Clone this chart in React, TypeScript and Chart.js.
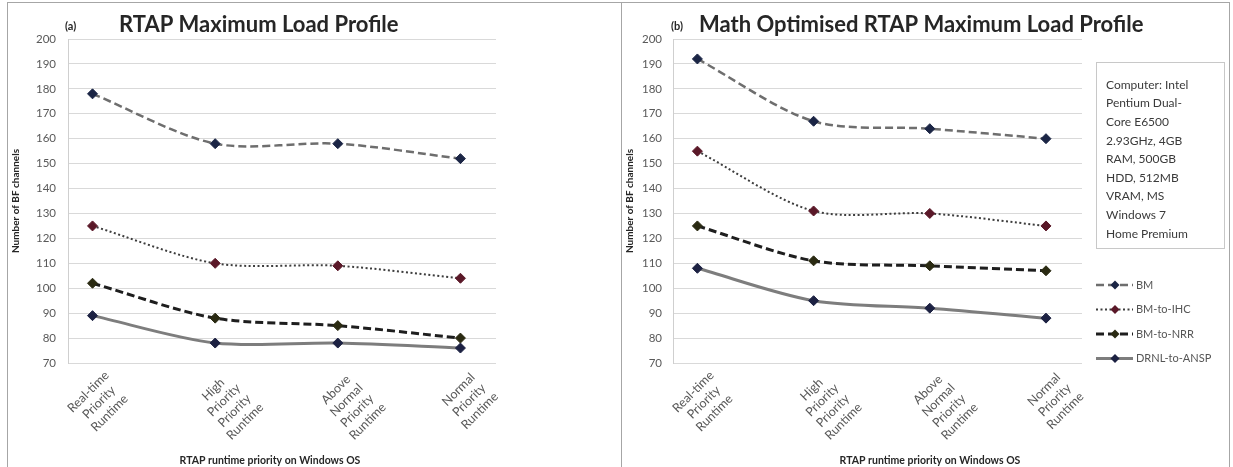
import React, { useEffect, useRef } from "react";
import { Chart, registerables } from "chart.js";

Chart.register(...registerables);

// ---- data ----
const categories: string[][] = [
  ["Real-time", "Priority", "Runtime"],
  ["High", "Priority", "Priority", "Runtime"],
  ["Above", "Normal", "Priority", "Runtime"],
  ["Normal", "Priority", "Runtime"],
];
const seriesNames = ["BM", "BM-to-IHC", "BM-to-NRR", "DRNL-to-ANSP"];

const bmA = [178, 158, 158, 152];
const ihcA = [125, 110, 109, 104];
const nrrA = [102, 88, 85, 80];
const drnlA = [89, 78, 78, 76];

const bmB = [192, 167, 164, 160];
const ihcB = [155, 131, 130, 125];
const nrrB = [125, 111, 109, 107];
const drnlB = [108, 95, 92, 88];

const yTicksMin = 70;
const yTicksMax = 200;
const yStep = 10;

const titleA = "RTAP Maximum Load Profile";
const titleB = "Math Optimised RTAP Maximum Load Profile";
const yTitle = "Number of BF channels";
const xTitle = "RTAP runtime priority on Windows OS";
const infoLines = [
  "Computer: Intel",
  "Pentium Dual-",
  "Core E6500",
  "2.93GHz, 4GB",
  "RAM, 500GB",
  "HDD, 512MB",
  "VRAM, MS",
  "Windows 7",
  "Home Premium",
];

// ---- styles ----
const FONT = "Lato, 'Open Sans', sans-serif";
const styles = [
  { line: "#6e6e6e", width: 2.5, dash: [8, 4], marker: "#1b2545" },
  { line: "#3d3d3d", width: 2, dash: [2, 2.5], marker: "#5a1828" },
  { line: "#1e1e1e", width: 3, dash: [8, 4], marker: "#2a2a12" },
  { line: "#7d7d7d", width: 3, dash: [] as number[], marker: "#1c2142" },
];

function makeDatasets(arrs: number[][]) {
  return arrs.map((arr, k) => ({
    label: seriesNames[k],
    data: arr.map((v, i) => ({ x: i, y: v })),
    borderColor: styles[k].line,
    borderWidth: styles[k].width,
    borderDash: styles[k].dash,
    backgroundColor: styles[k].marker,
    pointStyle: "rectRot",
    pointRadius: 5,
    pointBackgroundColor: styles[k].marker,
    pointBorderColor: styles[k].marker,
    pointBorderWidth: 1,
    tension: 0.3,
    fill: false,
  }));
}

function buildConfig(opts: {
  datasets: any[];
  padRight: number;
  yWidth: number;
  xMin: number;
  xMax: number;
  tickPad: number;
  extra: any;
}) {
  return {
    type: "line",
    data: { datasets: opts.datasets },
    plugins: [opts.extra],
    options: {
      animation: false,
      responsive: false,
      maintainAspectRatio: false,
      layout: { padding: { left: 0, right: opts.padRight, top: 36, bottom: 0 } },
      plugins: { legend: { display: false }, tooltip: { enabled: false }, title: { display: false } },
      scales: {
        x: {
          type: "linear",
          min: opts.xMin,
          max: opts.xMax,
          afterBuildTicks: (s: any) => {
            s.ticks = categories.map((_, i) => ({ value: i }));
          },
          afterFit: (s: any) => {
            s.height = 104;
          },
          grid: { display: false, drawTicks: false },
          border: { display: false },
          ticks: { display: false },
        },
        y: {
          min: yTicksMin,
          max: yTicksMax,
          afterFit: (s: any) => {
            s.width = opts.yWidth;
          },
          ticks: {
            stepSize: yStep,
            padding: opts.tickPad,
            color: "#595959",
            font: { family: FONT, size: 11.5 },
          },
          grid: { color: "#d9d9d9", drawTicks: false, lineWidth: 1 },
          border: { display: true, color: "#cfcfcf" },
          title: {
            display: true,
            text: yTitle,
            color: "#262626",
            font: { family: FONT, size: 10, weight: "bold" },
            padding: { top: 2, bottom: 0 },
          },
        },
      },
    },
  };
}

function titlePlugin(tag: string, tagX: number, title: string, titleX: number, xTitleCenter: number, withLegend: boolean) {
  return {
    id: "customText" + tag,
    afterDraw(chart: any) {
      const ctx = chart.ctx as CanvasRenderingContext2D;
      ctx.save();
      ctx.textBaseline = "middle";
      ctx.textAlign = "left";
      ctx.fillStyle = "#262626";
      ctx.font = `bold 11px ${FONT}`;
      ctx.fillText(tag, tagX, 23);
      ctx.font = `bold 22px ${FONT}`;
      ctx.fillText(title, titleX, 22);
      ctx.textAlign = "center";
      ctx.font = `bold 10.5px ${FONT}`;
      ctx.fillText(xTitle, xTitleCenter, 458);

      // rotated category labels, positioned with the x scale
      const xs = chart.scales.x;
      ctx.font = `12.5px ${FONT}`;
      ctx.fillStyle = "#595959";
      ctx.textAlign = "center";
      ctx.textBaseline = "middle";
      const lh = 15;
      categories.forEach((lines, i) => {
        const px = xs.getPixelForValue(i);
        const w = Math.max(...lines.map((l) => ctx.measureText(l).width));
        ctx.save();
        ctx.translate(px + 9, xs.top + 5);
        ctx.rotate(-Math.PI / 4);
        lines.forEach((l, j) => ctx.fillText(l, -w / 2, (j + 0.5) * lh));
        ctx.restore();
      });

      if (withLegend) {
        // info box
        ctx.strokeStyle = "#c8c8c8";
        ctx.lineWidth = 1;
        ctx.strokeRect(474.5, 59.5, 128, 186);
        ctx.textAlign = "left";
        ctx.fillStyle = "#3a3a3a";
        ctx.font = `12px ${FONT}`;
        infoLines.forEach((t, i) => ctx.fillText(t, 484, 82 + i * 18.6));

        // legend
        seriesNames.forEach((name, k) => {
          const y = 282 + k * 24.5;
          const st = styles[k];
          ctx.strokeStyle = st.line;
          ctx.lineWidth = st.width;
          ctx.setLineDash(st.dash);
          ctx.beginPath();
          ctx.moveTo(474, y);
          ctx.lineTo(511, y);
          ctx.stroke();
          ctx.setLineDash([]);
          ctx.fillStyle = st.marker;
          ctx.beginPath();
          ctx.moveTo(493, y - 4.5);
          ctx.lineTo(497.5, y);
          ctx.lineTo(493, y + 4.5);
          ctx.lineTo(488.5, y);
          ctx.closePath();
          ctx.fill();
          ctx.fillStyle = "#555555";
          ctx.font = `11px ${FONT}`;
          ctx.fillText(name, 514, y);
        });
      }
      ctx.restore();
    },
  };
}

export default function App() {
  const leftRef = useRef<HTMLCanvasElement>(null);
  const rightRef = useRef<HTMLCanvasElement>(null);

  useEffect(() => {
    const left = new Chart(
      leftRef.current as HTMLCanvasElement,
      buildConfig({
        datasets: makeDatasets([bmA, ihcA, nrrA, drnlA]),
        padRight: 124,
        yWidth: 60,
        xMin: -0.2,
        xMax: 3.29,
        tickPad: 12,
        extra: titlePlugin("(a)", 57, titleA, 111, 262, false),
      }) as any
    );
    const right = new Chart(
      rightRef.current as HTMLCanvasElement,
      buildConfig({
        datasets: makeDatasets([bmB, ihcB, nrrB, drnlB]),
        padRight: 146,
        yWidth: 51,
        xMin: -0.21,
        xMax: 3.31,
        tickPad: 11,
        extra: titlePlugin("(b)", 49, titleB, 77, 308, true),
      }) as any
    );
    return () => {
      left.destroy();
      right.destroy();
    };
  }, []);

  return (
    <div
      style={{
        position: "absolute",
        left: 0,
        top: 0,
        width: 1233,
        height: 467,
        overflow: "hidden",
        background: "#ffffff",
      }}
    >
      <div
        style={{
          position: "absolute",
          left: 7,
          top: 2,
          width: 613,
          height: 480,
          border: "1px solid #a6a6a6",
        }}
      />
      <div
        style={{
          position: "absolute",
          left: 621,
          top: 2,
          width: 607,
          height: 480,
          border: "1px solid #a6a6a6",
        }}
      />
      <canvas
        ref={leftRef}
        width={612}
        height={464}
        style={{ position: "absolute", left: 8, top: 3, width: 612, height: 464 }}
      />
      <canvas
        ref={rightRef}
        width={606}
        height={464}
        style={{ position: "absolute", left: 622, top: 3, width: 606, height: 464 }}
      />
    </div>
  );
}
